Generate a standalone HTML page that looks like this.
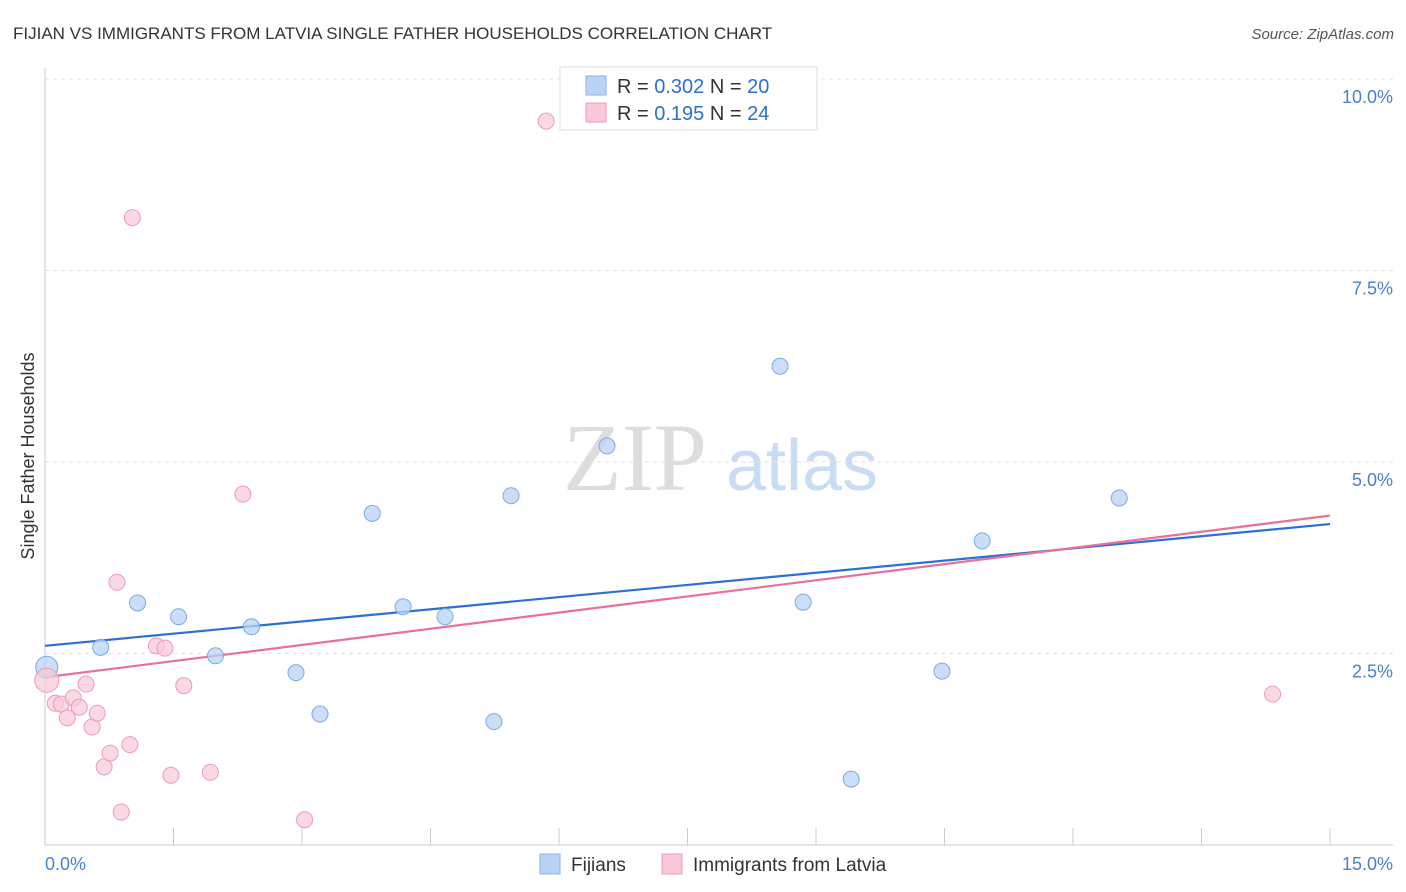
<!DOCTYPE html>
<html><head><meta charset="utf-8"><style>
body{margin:0;background:#fff;font-family:"Liberation Sans",sans-serif;}
svg{display:block}
</style></head><body>
<svg width="1406" height="892" viewBox="0 0 1406 892" xmlns="http://www.w3.org/2000/svg" id="chart">
<text x="13" y="39" font-size="17" fill="#333">FIJIAN VS IMMIGRANTS FROM LATVIA SINGLE FATHER HOUSEHOLDS CORRELATION CHART</text>
<text x="1394" y="39" font-size="15" fill="#555" font-style="italic" text-anchor="end">Source: ZipAtlas.com</text>
<g>
<text x="635" y="490" font-size="96" fill="#ddd" font-family="Liberation Serif,serif" text-anchor="middle">ZIP</text>
<text x="802" y="490" font-size="72" fill="#c9dcf3" text-anchor="middle">atlas</text>
</g>
<g id="grid"></g>
<g id="axes"></g>
<text transform="translate(34,456) rotate(-90)" font-size="18" fill="#333" text-anchor="middle">Single Father Households</text>
<g id="lines"></g>
<g id="pts"></g>
<g>
<rect x="560" y="67" width="257" height="63" fill="#fff" stroke="#ddd"/>
<rect x="586" y="76" width="20" height="19" fill="#b8d3f5" stroke="#8ab4e8"/>
<rect x="586" y="103" width="20" height="19" fill="#f9c9d7" stroke="#f09ab5"/>
<text x="617" y="93" font-size="20" fill="#333">R = <tspan fill="#2c6fd6">0.302</tspan>   N = <tspan fill="#2c6fd6">20</tspan></text>
<text x="617" y="120" font-size="20" fill="#333">R =  <tspan fill="#2c6fd6">0.195</tspan>   N = <tspan fill="#2c6fd6">24</tspan></text>
</g>
<g>
<rect x="540" y="854" width="20" height="20" fill="#b8d3f5" stroke="#8ab4e8"/>
<text x="571" y="871" font-size="19" fill="#333">Fijians</text>
<rect x="662" y="854" width="20" height="20" fill="#f9c9d7" stroke="#f09ab5"/>
<text x="693" y="871" font-size="19" fill="#333">Immigrants from Latvia</text>
</g>
</svg>
<script>
const fijX=[0.02,0.65,1.08,1.56,1.99,2.41,2.93,3.21,3.82,4.18,4.67,5.24,5.44,6.56,8.58,8.85,9.41,10.47,10.94,12.54];
const fijY=[2.32,2.58,3.16,2.98,2.47,2.85,2.25,1.71,4.33,3.11,2.98,1.61,4.56,5.21,6.25,3.17,0.86,2.27,3.97,4.53];
const latX=[0.02,0.12,0.19,0.26,0.33,0.40,0.48,0.55,0.61,0.69,0.76,0.84,0.89,0.99,1.02,1.30,1.40,1.47,1.62,1.93,2.31,3.03,5.85,14.33];
const latY=[2.15,1.85,1.84,1.66,1.92,1.80,2.10,1.54,1.72,1.02,1.20,3.43,0.43,1.31,8.19,2.60,2.57,0.91,2.08,0.95,4.58,0.33,9.45,1.97];
const fijTrend=[2.60,4.19];
const latTrend=[2.19,4.30];
const yTicks=[2.5,5.0,7.5,10.0];
const xTickLabels=["0.0%","15.0%"];
const NS="http://www.w3.org/2000/svg";
const sx=v=>45+v*(1330-45)/15;
const sy=v=>845-v*76.6;
function mk(t,a,p){const e=document.createElementNS(NS,t);for(const k in a)e.setAttribute(k,a[k]);p.appendChild(e);return e;}
const grid=document.getElementById('grid'),axes=document.getElementById('axes');
yTicks.forEach(v=>{
 const l=mk('line',{x1:45,x2:1393,y1:sy(v),y2:sy(v),stroke:'#e2e2e2','stroke-dasharray':'4,4'},grid);
 
 
 const t=mk('text',{x:1393,y:sy(v)+24,'font-size':18,fill:'#4a7fd4','text-anchor':'end'},axes);
 t.textContent=v.toFixed(1)+'%';
 
 
});
mk('line',{x1:45,x2:45,y1:68,y2:845,stroke:'#ccc'},axes);
mk('line',{x1:45,x2:1393,y1:845,y2:845,stroke:'#ccc'},axes);
for(let i=0;i<=10;i++){mk('line',{x1:sx(i*1.5),x2:sx(i*1.5),y1:828,y2:845,stroke:'#ccc'},axes);}
let t0=mk('text',{x:45,y:870,'font-size':18,fill:'#4a7fd4'},axes);t0.textContent=xTickLabels[0];


let t1=mk('text',{x:1393,y:870,'font-size':18,fill:'#4a7fd4','text-anchor':'end'},axes);t1.textContent=xTickLabels[1];


const pts=document.getElementById('pts'),lines=document.getElementById('lines');
fijX.forEach((x,i)=>{const c=mk('circle',{cx:sx(x),cy:sy(fijY[i]),r:i==0?11:8,fill:'#b8d3f5','fill-opacity':0.75,stroke:'#7eaae6','stroke-width':1},pts);
 
 });
latX.forEach((x,i)=>{const c=mk('circle',{cx:sx(x),cy:sy(latY[i]),r:i==0?12:8,fill:'#f9c9d7','fill-opacity':0.7,stroke:'#ef9ab5','stroke-width':1},pts);
 
 });
const bl=mk('line',{x1:sx(0),x2:sx(15),y1:sy(fijTrend[0]),y2:sy(fijTrend[1]),stroke:'#2c6fd6','stroke-width':2.2},lines);


const pl=mk('line',{x1:sx(0),x2:sx(15),y1:sy(latTrend[0]),y2:sy(latTrend[1]),stroke:'#e8709a','stroke-width':2.2},lines);


</script>
</body></html>
